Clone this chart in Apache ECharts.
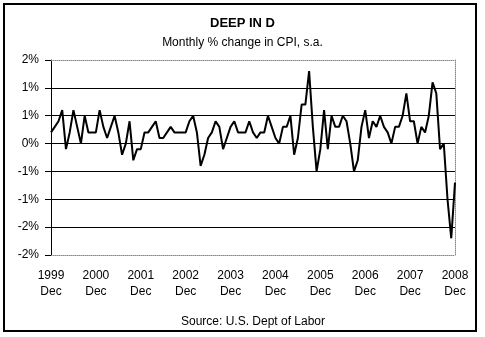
<!DOCTYPE html>
<html>
<head>
<meta charset="utf-8">
<script src="https://cdn.jsdelivr.net/npm/echarts@6/dist/echarts.min.js"></script>
<style>html,body{margin:0;padding:0;background:#fff}#c{width:485px;height:337px}</style>
</head>
<body>
<div id="c"></div>
<script>
const titleText = 'DEEP IN D';
const subtitleText = 'Monthly % change in CPI, s.a.';
const sourceText = 'Source: U.S. Dept of Labor';
const monthNames = ['Jan','Feb','Mar','Apr','May','Jun','Jul','Aug','Sep','Oct','Nov','Dec'];
const startYear = 1999, startMonth = 11, monthCount = 109;
const categories = [];
for (let i = 0; i < monthCount; i++) {
  const m = (startMonth + i) % 12, y = startYear + Math.floor((startMonth + i) / 12);
  categories.push(y + ' ' + monthNames[m]);
}
// Monthly % change, Dec 1999 .. Dec 2008
const cpiChange = [
  0.2,
  0.3, 0.4, 0.6, -0.1, 0.2, 0.6, 0.3, 0.0, 0.5, 0.2, 0.2, 0.2,
  0.6, 0.3, 0.1, 0.3, 0.5, 0.2, -0.2, 0.0, 0.4, -0.3, -0.1, -0.1,
  0.2, 0.2, 0.3, 0.4, 0.1, 0.1, 0.2, 0.3, 0.2, 0.2, 0.2, 0.2,
  0.4, 0.5, 0.2, -0.4, -0.2, 0.1, 0.2, 0.4, 0.3, -0.1, 0.1, 0.3,
  0.4, 0.2, 0.2, 0.2, 0.4, 0.2, 0.1, 0.2, 0.2, 0.5, 0.3, 0.1,
  0.0, 0.3, 0.3, 0.5, -0.2, 0.1, 0.7, 0.7, 1.3, 0.3, -0.5, -0.1,
  0.6, -0.1, 0.5, 0.3, 0.3, 0.5, 0.4, 0.0, -0.5, -0.3, 0.3, 0.6,
  0.1, 0.4, 0.3, 0.5, 0.3, 0.2, 0.0, 0.3, 0.3, 0.5, 0.9, 0.4,
  0.4, 0.0, 0.3, 0.2, 0.5, 1.1, 0.9, -0.1, 0.0, -1.0, -1.7, -0.7
];
const yMin = -2, yMax = 1.5, yStep = 0.5;

const fontFamily = '"Liberation Sans", Arial, sans-serif';
const chart = echarts.init(document.getElementById('c'), null, {renderer: 'canvas'});
const dotted = {color: '#8a8a8a', type: [1, 1], width: 1};
chart.setOption({
  animation: false,
  backgroundColor: '#fff',
  title: [
    {text: titleText, left: 'center', top: 16, padding: 0,
     textStyle: {fontFamily, fontSize: 13, fontWeight: 'bold', color: '#000', lineHeight: 14}},
    {text: subtitleText, left: 'center', top: 36, padding: 0,
     textStyle: {fontFamily, fontSize: 12, fontWeight: 'normal', color: '#000', lineHeight: 14}}
  ],
  graphic: [
    {type: 'rect', shape: {x: 4, y: 4, width: 472, height: 327},
     style: {fill: 'none', stroke: '#000', lineWidth: 2}, silent: true, z: 100},
    {type: 'text', x: 253, y: 316,
     style: {text: sourceText, fill: '#000', font: '12px ' + fontFamily, textAlign: 'center', textVerticalAlign: 'top'}}
  ],
  grid: {left: 51, right: 30, top: 60, bottom: 82, containLabel: false},
  xAxis: [
    {type: 'category', data: categories, boundaryGap: false,
     axisLine: {show: true, onZero: false, lineStyle: dotted},
     axisTick: {show: false},
     axisLabel: {
       interval: (idx) => idx % 12 === 0,
       formatter: (v) => { const p = v.split(' '); return p[0] + '\n' + p[1]; },
       color: '#000', fontFamily, fontSize: 12, lineHeight: 16, margin: 13
     },
     splitLine: {show: false}},
    {type: 'category', data: categories, boundaryGap: false, position: 'top',
     axisLine: {show: true, onZero: false, lineStyle: dotted},
     axisTick: {show: false}, axisLabel: {show: false}, splitLine: {show: false}}
  ],
  yAxis: [
    {type: 'value', min: yMin, max: yMax, interval: yStep,
     axisLine: {show: true, lineStyle: {color: '#000', width: 1}},
     axisTick: {show: true, inside: false, length: 6, lineStyle: {color: '#000'}},
     axisLabel: {
       formatter: (v) => { const r = Math.sign(v) * Math.round(Math.abs(v)); return (r === 0 ? 0 : r) + '%'; },
       color: '#000', fontFamily, fontSize: 12, margin: 12
     },
     splitLine: {show: true, showMinLine: false, showMaxLine: false, lineStyle: {color: '#000', width: 1}}},
    {type: 'value', min: yMin, max: yMax, interval: yStep, position: 'right',
     axisLine: {show: true, lineStyle: dotted},
     axisTick: {show: false}, axisLabel: {show: false}, splitLine: {show: false}}
  ],
  series: [
    {type: 'line', data: cpiChange, xAxisIndex: 0, yAxisIndex: 0,
     showSymbol: false, symbol: 'none', smooth: false,
     lineStyle: {color: '#000', width: 2}, z: 5}
  ]
});
</script>
</body>
</html>
